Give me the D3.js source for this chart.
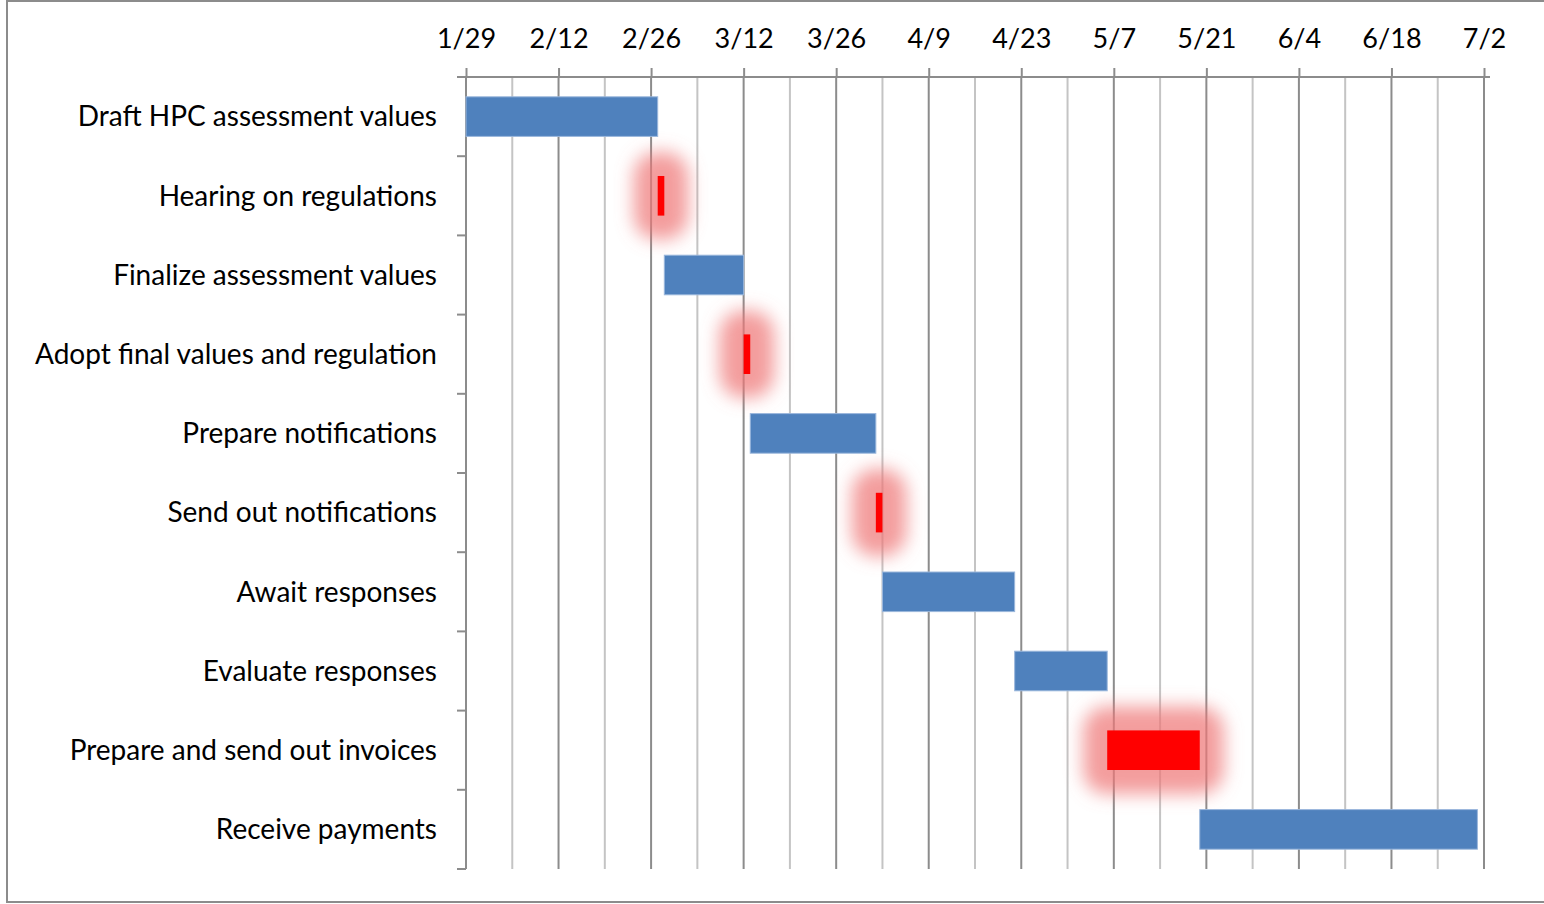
<!DOCTYPE html>
<html>
<head>
<meta charset="utf-8">
<script src="https://cdn.jsdelivr.net/npm/d3@7"></script>
<style>
  body { margin: 0; background: #fff; }
  svg text { font-family: Lato, "Open Sans", sans-serif; fill: #000; }
</style>
</head>
<body>
<svg id="chartSVG" width="1544" height="904"></svg>
<script>
// task names, top to bottom
var tasks = [
  "Draft HPC assessment values",
  "Hearing on regulations",
  "Finalize assessment values",
  "Adopt final values and regulation",
  "Prepare notifications",
  "Send out notifications",
  "Await responses",
  "Evaluate responses",
  "Prepare and send out invoices",
  "Receive payments"
];
// start dates and length in days
var starts = ["2013-01-29", "2013-02-27", "2013-02-28", "2013-03-12", "2013-03-13",
              "2013-04-01", "2013-04-02", "2013-04-22", "2013-05-06", "2013-05-20"];
var durations = [29, 1, 12, 1, 19, 1, 20, 14, 14, 42];
// highlighted (red, glowing) tasks
var highlight = [false, true, false, true, false, true, false, false, true, false];
// axis: first/last date, labelled every 14 days, gridline every 7
var axisStart = "2013-01-29";
var axisEnd = "2013-07-02";

drawGantt("#chartSVG");

function drawGantt(elm) {
  var svg = d3.select(elm),
    width = +svg.attr("width"),
    height = +svg.attr("height");
  var margin = { top: 77, right: 60, bottom: 35, left: 466 };
  var parseDate = d3.utcParse("%Y-%m-%d");

  var data = tasks.map(function (name, i) {
    var s = parseDate(starts[i]);
    return { name: name, start: s, end: d3.utcDay.offset(s, durations[i]), hot: highlight[i] };
  });

  var x = d3.scaleUtc()
    .domain([parseDate(axisStart), parseDate(axisEnd)])
    .range([margin.left, width - margin.right]);
  var y = d3.scaleBand()
    .domain(tasks)
    .range([margin.top, height - margin.bottom])
    .paddingInner(0.5)
    .paddingOuter(0.25);

  var weekTicks = d3.utcDay.range(x.domain()[0], d3.utcDay.offset(x.domain()[1], 1), 7);
  var majorTicks = weekTicks.filter(function (d, i) { return i % 2 === 0; });
  var y0 = margin.top, y1 = height - margin.bottom;

  // soft blur used for the glow behind the red tasks
  var defs = svg.append("defs");
  defs.append("filter").attr("id", "soft")
    .attr("filterUnits", "userSpaceOnUse")
    .attr("x", 0).attr("y", 0).attr("width", width).attr("height", height)
    .append("feGaussianBlur").attr("stdDeviation", 9);

  // outer frame
  svg.append("rect")
    .attr("x", 7).attr("y", 1)
    .attr("width", width + 20).attr("height", height - 3)
    .attr("fill", "none").attr("stroke", "#8c8c8c").attr("stroke-width", 2);

  // vertical gridlines
  svg.append("g")
    .selectAll("line")
    .data(weekTicks)
    .join("line")
    .attr("x1", function (d) { return x(d); })
    .attr("x2", function (d) { return x(d); })
    .attr("y1", y0)
    .attr("y2", y1)
    .attr("stroke", function (d, i) { return i % 2 === 0 ? "#8c8c8c" : "#c4c4c4"; })
    .attr("stroke-width", 2);

  // top axis
  var top = svg.append("g")
    .attr("transform", "translate(0," + y0 + ")")
    .call(d3.axisTop(x)
      .tickValues(majorTicks)
      .tickSize(9)
      .tickPadding(20)
      .tickFormat(d3.utcFormat("%-m/%-d")));
  top.select(".domain")
    .attr("d", "M" + (margin.left - 9) + ",0H" + (x.range()[1] + 6))
    .attr("stroke", "#8c8c8c").attr("stroke-width", 2);
  top.selectAll(".tick line").attr("stroke", "#8c8c8c").attr("stroke-width", 2);
  top.selectAll(".tick text").style("font-size", "27px");

  // left axis with ticks on category boundaries
  var left = svg.append("g");
  left.append("line")
    .attr("x1", margin.left).attr("x2", margin.left)
    .attr("y1", y0).attr("y2", y1)
    .attr("stroke", "#8c8c8c").attr("stroke-width", 2);
  left.selectAll(".bt")
    .data(d3.range(tasks.length + 1))
    .join("line")
    .attr("class", "bt")
    .attr("x1", margin.left - 9).attr("x2", margin.left)
    .attr("y1", function (i) { return y0 + i * y.step(); })
    .attr("y2", function (i) { return y0 + i * y.step(); })
    .attr("stroke", "#8c8c8c").attr("stroke-width", 2);
  left.selectAll("text")
    .data(tasks)
    .join("text")
    .attr("x", margin.left - 29)
    .attr("y", function (d) { return y(d) + y.bandwidth() / 2; })
    .attr("dy", "0.35em")
    .attr("text-anchor", "end")
    .style("font-size", "28px")
    .text(function (d) { return d; });

  // glow behind highlighted tasks
  var g = 24;
  svg.append("g")
    .attr("filter", "url(#soft)")
    .selectAll("rect")
    .data(data.filter(function (d) { return d.hot; }))
    .join("rect")
    .attr("x", function (d) { return x(d.start) - g; })
    .attr("y", function (d) { return y(d.name) - g; })
    .attr("width", function (d) { return x(d.end) - x(d.start) + 2 * g; })
    .attr("height", y.bandwidth() + 2 * g)
    .attr("rx", g)
    .attr("fill", "#ee7777")
    .attr("fill-opacity", 0.72);

  // bars
  svg.append("g")
    .selectAll("rect")
    .data(data)
    .join("rect")
    .attr("x", function (d) { return x(d.start); })
    .attr("y", function (d) { return y(d.name); })
    .attr("width", function (d) { return x(d.end) - x(d.start); })
    .attr("height", y.bandwidth())
    .attr("fill", function (d) { return d.hot ? "#ff0000" : "#4f81bd"; })
    .attr("stroke", function (d) { return d.hot ? "none" : "#9bb7dc"; })
    .attr("stroke-width", 1);
}
</script>
</body>
</html>
